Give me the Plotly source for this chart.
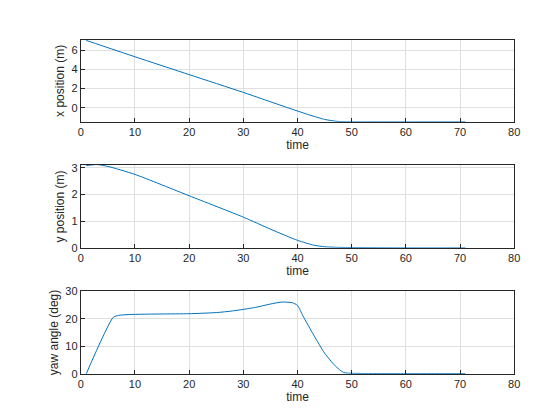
import plotly.graph_objects as go

t_x = [1, 10, 20, 30, 38, 42, 45, 47, 48, 50, 55, 60, 65, 71]
x_pos = [7.0, 5.3, 3.45, 1.6, 0.05, -0.7, -1.2, -1.38, -1.43, -1.45, -1.45, -1.45, -1.45, -1.45]

t_y = [1, 3, 5, 10, 20, 30, 35, 40, 43, 45, 47, 50, 60, 71]
y_pos = [3.08, 3.12, 3.05, 2.75, 1.95, 1.15, 0.7, 0.28, 0.1, 0.04, 0.02, 0.01, 0.0, 0.0]

t_yaw = [1, 6, 7, 9, 15, 20, 25, 28, 32, 35, 37, 39, 40, 41, 43, 45, 47, 48.5, 50, 60, 71]
yaw = [0, 20.5, 21.2, 21.5, 21.7, 21.8, 22.2, 22.8, 24.0, 25.3, 26.0, 25.8, 24.8, 21.0, 14.0, 7.5, 2.8, 0.5, 0.2, 0.1, 0.1]

panels = [
    (t_x, x_pos, "x position (m)", [-1.45, 7.05], [0, 2, 4, 6], (0.729, 0.924)),
    (t_y, y_pos, "y position (m)", [0, 3.1], [0, 1, 2, 3], (0.429, 0.626)),
    (t_yaw, yaw, "yaw angle (deg)", [0, 30], [0, 10, 20, 30], (0.129, 0.326)),
]

fig = go.Figure()
for i, (t, v, label, yr, yt, dom) in enumerate(panels, start=1):
    fig.add_trace(go.Scatter(x=t, y=v, mode="lines", line=dict(color="#0072BD", width=1, shape="spline", smoothing=0.6),
                             xaxis=f"x{i}", yaxis=f"y{i}", showlegend=False))
    ax = dict(range=[0, 80], tickvals=list(range(0, 81, 10)), domain=[0.130, 0.904], anchor=f"y{i}",
              showgrid=True, gridcolor="#dfdfdf", showline=True, linecolor="#262626", mirror=True,
              ticks="inside", ticklen=4, tickcolor="#262626", zeroline=False, automargin=False,
              title=dict(text="time", standoff=2, font=dict(size=12, color="#262626")),
              tickfont=dict(size=11, color="#262626"))
    ay = dict(range=yr, tickvals=yt, domain=list(dom), anchor=f"x{i}",
              showgrid=True, gridcolor="#dfdfdf", showline=True, linecolor="#262626", mirror=True,
              ticks="inside", ticklen=4, tickcolor="#262626", zeroline=False, automargin=False,
              title=dict(text=label, standoff=4, font=dict(size=12, color="#262626")),
              tickfont=dict(size=11, color="#262626"))
    fig.layout[f"xaxis{i}"] = ax
    fig.layout[f"yaxis{i}"] = ay

fig.update_layout(width=560, height=420, margin=dict(l=0, r=0, t=0, b=0),
                  paper_bgcolor="white", plot_bgcolor="white",
                  font=dict(family="Liberation Sans, Arial", color="#262626"))
fig.write_html("out.html")
